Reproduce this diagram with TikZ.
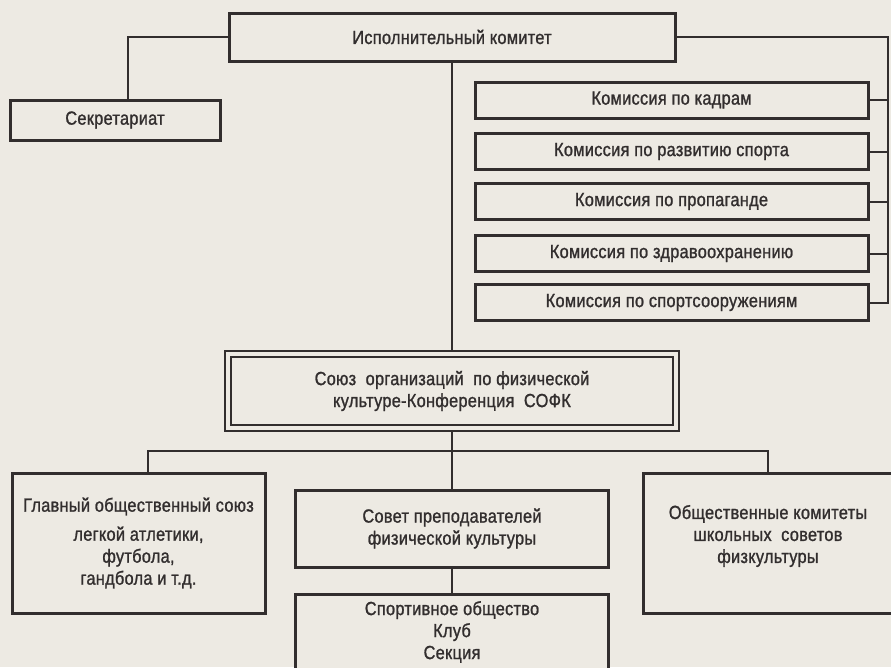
\documentclass[tikz,border=0pt]{standalone}
\usepackage{fontspec}
\setmainfont{Liberation Sans}[FakeStretch=0.86,LetterSpace=1.5,FakeBold=1.2]
\usetikzlibrary{positioning}
\definecolor{paper}{RGB}{237,234,227}
\definecolor{ink}{RGB}{50,46,46}

\begin{document}
\begin{tikzpicture}[x=1pt,y=-1pt,
  box/.style={draw=ink,line width=3pt,fill=paper,align=center,inner sep=0pt,
    text=ink,font=\fontsize{19}{22}\selectfont},
  kombox/.style={box,minimum width=393pt,minimum height=36pt},
  link/.style={draw=ink,line width=2pt}]
\fill[paper] (0,0) rectangle (891,667);
\useasboundingbox (0,0) rectangle (891,667);
% upper part
\node[box,minimum width=446pt,minimum height=48pt] (ispolkom) at (452,37) {Исполнительный комитет};
\node[box,minimum width=210pt,minimum height=40pt] (sekr) at (115,120) {Секретариат};
\node[kombox] (kom1) at (671.5,100) {Комиссия по кадрам};
\node[kombox] (kom2) at (671.5,151.5) {Комиссия по развитию спорта};
\node[kombox] (kom3) at (671.5,201.5) {Комиссия по пропаганде};
\node[kombox] (kom4) at (671.5,253.5) {Комиссия по здравоохранению};
\node[kombox] (kom5) at (671.5,302.5) {Комиссия по спортсооружениям};
% SOFK
\node[box,double=paper,double distance=4pt,line width=2.2pt,outer sep=4pt,
  minimum width=448pt,minimum height=74pt] (sofk) at (452,391)
  {Союз\enspace организаций\enspace по физической\\культуре-Конференция\enspace СОФК};
% lower part
\node[box,minimum width=253pt,minimum height=140pt] (glavny) at (138.5,543)
  {Главный общественный союз\\[7pt]легкой атлетики,\\футбола,\\гандбола и т.д.};
\node[box,minimum width=313pt,minimum height=77pt] (sovet) at (452,528.5)
  {Совет преподавателей\\физической культуры};
\node[box,minimum width=313pt,minimum height=76pt] (sport) at (452,632)
  {Спортивное общество\\Клуб\\Секция};
\node[box,minimum width=250pt,minimum height=140pt,text depth=18pt] (obsh) at (768,543)
  {Общественные комитеты\\школьных\enspace советов\\физкультуры};
% connectors
\coordinate (rbus) at (888,37);
\coordinate (bus) at (452,451);
\draw[link] (ispolkom.west) -| ([xshift=13pt]sekr.north);
\draw[link] (ispolkom.east) -- (rbus) |- (kom5.east);
\draw[link] (kom1.east) -- (kom1.east -| rbus);
\draw[link] (kom2.east) -- (kom2.east -| rbus);
\draw[link] (kom3.east) -- (kom3.east -| rbus);
\draw[link] (kom4.east) -- (kom4.east -| rbus);
\draw[link] (ispolkom.south) -- (sofk.north);
\draw[link] (sofk.south) -- (sovet.north);
\draw[link] ([xshift=9pt]glavny.north) |- (bus) -| (obsh.north);
\draw[link] (sovet.south) -- (sport.north);
\end{tikzpicture}
\end{document}
